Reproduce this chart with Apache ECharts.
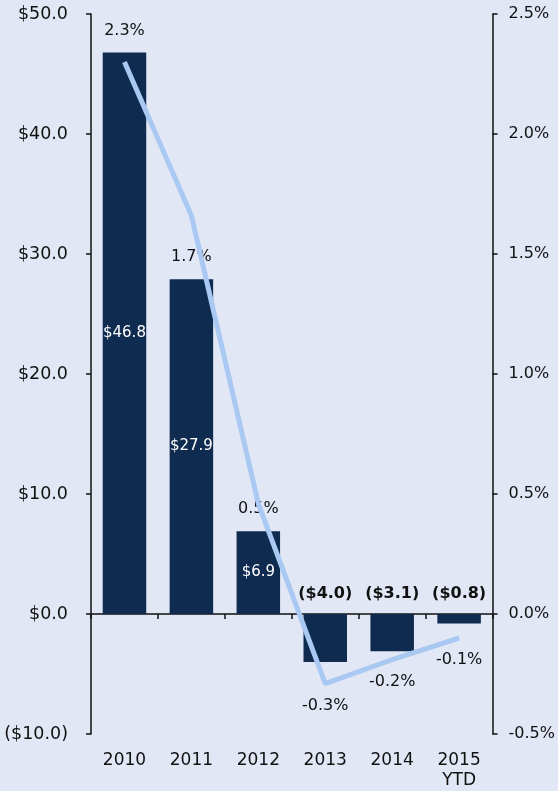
<!DOCTYPE html>
<html>
<head>
<meta charset="utf-8">
<script src="https://cdn.jsdelivr.net/npm/echarts@6/dist/echarts.min.js"></script>
<style>
  html, body { margin: 0; padding: 0; background: #e1e7f5; }
  #chart { width: 558px; height: 791px; }
</style>
</head>
<body>
<div id="chart"></div>
<script>
// categories and values
const years = ['2010', '2011', '2012', '2013', '2014', '2015\nYTD']
const flows = [46.8, 27.9, 6.9, -4.0, -3.1, -0.8]      // $ bn, left axis
const growth = [2.30, 1.66, 0.46, -0.29, -0.19, -0.10]  // %, right axis

const font = 'DejaVu Sans'
const ink = '#111111'

function money(v) {
  const s = '$' + Math.abs(v).toFixed(1)
  return v < 0 ? '(' + s + ')' : s
}

const chart = echarts.init(document.getElementById('chart'))

chart.setOption({
  backgroundColor: '#e1e7f5',
  animation: false,
  grid: { left: 91, right: 62, top: 14, bottom: 56 },
  xAxis: [
    {
      // axis line sitting on zero, ticks between categories
      type: 'category',
      data: years,
      position: 'bottom',
      axisLine: { onZero: true, onZeroAxisIndex: 0, lineStyle: { color: ink, width: 1.5 } },
      axisTick: { show: true, length: 5, lineStyle: { color: ink, width: 1.5 } },
      axisLabel: { show: false },
      splitLine: { show: false }
    },
    {
      // labels only, at the bottom of the plot
      type: 'category',
      data: years,
      position: 'bottom',
      axisLine: { show: false, onZero: false },
      axisTick: { show: false },
      axisLabel: { color: ink, fontFamily: font, fontSize: 17, margin: 17, lineHeight: 20 },
      splitLine: { show: false }
    }
  ],
  yAxis: [
    {
      type: 'value',
      min: -10,
      max: 50,
      interval: 10,
      axisLine: { show: true, lineStyle: { color: ink, width: 1.5 } },
      axisTick: { show: true, length: 5, lineStyle: { color: ink, width: 1.5 } },
      axisLabel: { color: ink, fontFamily: font, fontSize: 17.5, margin: 23, formatter: money },
      splitLine: { show: false }
    },
    {
      type: 'value',
      position: 'right',
      min: -0.5,
      max: 2.5,
      interval: 0.5,
      axisLine: { show: true, lineStyle: { color: ink, width: 1.5 } },
      axisTick: { show: true, length: 5, lineStyle: { color: ink, width: 1.5 } },
      axisLabel: { color: ink, fontFamily: font, fontSize: 16, margin: 16, formatter: v => v.toFixed(1) + '%' },
      splitLine: { show: false }
    }
  ],
  series: [
    {
      name: 'Flows',
      type: 'bar',
      barWidth: '65%',
      itemStyle: { color: '#0f2b50' },
      label: {
        show: true,
        position: 'inside',
        color: '#ffffff',
        fontFamily: font,
        fontSize: 15,
        formatter: p => money(p.value)
      },
      data: flows.map(v => v < 0
        ? { value: v, label: { position: 'top', distance: 12, color: ink, fontWeight: 'bold', fontSize: 16 } }
        : { value: v })
    },
    {
      // invisible twin of the positive bars, carries the % label above them
      name: 'pctTop',
      type: 'bar',
      barWidth: '65%',
      barGap: '-100%',
      silent: true,
      itemStyle: { color: 'rgba(0,0,0,0)' },
      label: {
        show: true,
        position: 'top',
        distance: 14,
        color: ink,
        fontFamily: font,
        fontSize: 16,
        formatter: p => growth[p.dataIndex].toFixed(1) + '%'
      },
      data: flows.map(v => v > 0 ? v : '-')
    },
    {
      name: 'Growth',
      type: 'line',
      yAxisIndex: 1,
      z: 5,
      symbol: 'circle',
      symbolSize: 2,
      showSymbol: true,
      lineStyle: { color: '#a9c9f3', width: 5 },
      itemStyle: { color: 'rgba(0,0,0,0)' },
      label: {
        show: true,
        position: 'bottom',
        distance: 13,
        color: ink,
        fontFamily: font,
        fontSize: 16,
        // positive years carry their % above the bar instead
        formatter: p => p.value < 0 ? p.value.toFixed(1) + '%' : ''
      },
      data: growth
    }
  ]
})
</script>
</body>
</html>
